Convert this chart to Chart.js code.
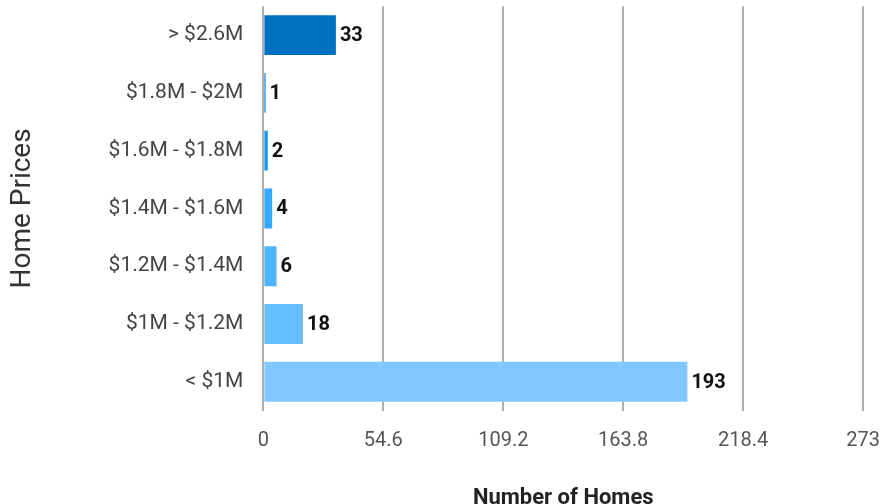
<!DOCTYPE html>
<html>
<head>
<meta charset="utf-8">
<script src="https://cdn.jsdelivr.net/npm/chart.js@4"></script>
<style>
  html, body { margin: 0; padding: 0; background: #fff; }
  #wrap { width: 883px; height: 504px; }
</style>
</head>
<body>
<div id="wrap"><canvas id="c" width="883" height="504"></canvas></div>
<script>
// ====== 資料 ======
const categories = ["> $2.6M", "$1.8M - $2M", "$1.6M - $1.8M", "$1.4M - $1.6M", "$1.2M - $1.4M", "$1M - $1.2M", "< $1M"];
const homeCounts = [33, 1, 2, 4, 6, 18, 193];
const barColors = ["#0070c0", "#0a84e0", "#1696f2", "#33a9ff", "#4db4ff", "#66beff", "#80c8ff"];
const xTicks = [0, 54.6, 109.2, 163.8, 218.4, 273];

// ====== 數值標籤（沒有 datalabels 外掛，自己畫） ======
const valueLabels = {
  id: "valueLabels",
  afterDatasetsDraw(chart) {
    const ctx = chart.ctx;
    const meta = chart.getDatasetMeta(0);
    ctx.save();
    ctx.font = "bold 20px Roboto";
    ctx.fillStyle = "#111";
    ctx.textBaseline = "middle";
    ctx.textAlign = "left";
    meta.data.forEach((bar, i) => {
      ctx.fillText(String(homeCounts[i]), bar.x + 4, bar.y + 1);
    });
    ctx.restore();
  }
};

new Chart(document.getElementById("c"), {
  type: "bar",
  data: {
    labels: categories,
    datasets: [{ data: homeCounts, backgroundColor: barColors, barPercentage: 0.69, categoryPercentage: 1 }]
  },
  options: {
    indexAxis: "y",
    responsive: false,
    animation: false,
    layout: { padding: { left: 6, right: 0, top: 0, bottom: -8 } },
    plugins: { legend: { display: false }, tooltip: { enabled: false } },
    scales: {
      x: {
        min: 0, max: 273,
        afterBuildTicks: (axis) => { axis.ticks = xTicks.map(v => ({ value: v })); },
        ticks: { color: "#555", font: { family: "Roboto", size: 20 }, padding: 3, callback: (v) => String(v) },
        grid: { color: "#b0b0b0", lineWidth: 2, tickLength: 15, drawTicks: true, tickColor: "rgba(0,0,0,0)" },
        border: { display: false },
        title: { display: true, text: "Number of Homes", color: "#222", font: { family: "Roboto", size: 22, weight: "bold" }, padding: { top: 30, bottom: 0 } }
      },
      y: {
        grid: { display: false, drawTicks: true, tickLength: 20 },
        border: { display: false },
        ticks: { color: "#444", font: { family: "Roboto", size: 21, lineHeight: 0.6 }, padding: 0 },
        title: { display: true, text: "Home Prices", color: "#333", font: { family: "Roboto", size: 28 }, padding: { top: 0, bottom: 69 } }
      }
    }
  },
  plugins: [valueLabels]
});
</script>
</body>
</html>
